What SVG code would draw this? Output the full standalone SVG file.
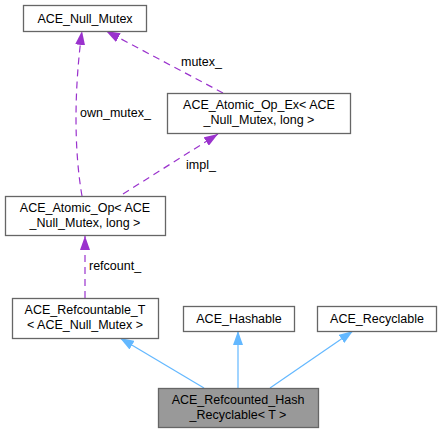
<svg xmlns="http://www.w3.org/2000/svg" width="442" height="433" viewBox="0 0 442 433">
<style>
  text { font-family: "Liberation Sans", Arial, sans-serif; font-size: 12.5px; fill: #000; }
  .c { text-anchor: middle; }
  .box { fill: #fff; stroke: #666; stroke-width: 1.3; }
  .main { fill: #999; stroke: #666; stroke-width: 1.3; }
  .coll { fill: none; stroke: #9a32cd; stroke-width: 1.2; stroke-dasharray: 7,5; }
  .inh { fill: none; stroke: #63b8ff; stroke-width: 1.2; }
</style>
<defs>
  <marker id="ap" markerUnits="userSpaceOnUse" viewBox="0 0 14 10" refX="14" refY="5" markerWidth="14" markerHeight="10" orient="auto">
    <path d="M0,0 L14,5 L0,10 z" fill="#9a32cd"/>
  </marker>
  <marker id="ab" markerUnits="userSpaceOnUse" viewBox="0 0 14 10" refX="14" refY="5" markerWidth="14" markerHeight="10" orient="auto">
    <path d="M0,0 L14,5 L0,10 z" fill="#63b8ff"/>
  </marker>
</defs>
<g id="connectors">
  <path class="coll" d="M82,196 C74,150 74,90 82,31" marker-end="url(#ap)"/>
  <text x="80" y="117">own_mutex_</text>
  <path class="coll" d="M223,93 L106,31" marker-end="url(#ap)"/>
  <text x="181" y="66">mutex_</text>
  <path class="coll" d="M123,194 L218,134" marker-end="url(#ap)"/>
  <text x="186" y="169">impl_</text>
  <path class="coll" d="M85,298 L85,236" marker-end="url(#ap)"/>
  <text x="89" y="270">refcount_</text>
  <path class="inh" d="M204,388 L120,338" marker-end="url(#ab)"/>
  <path class="inh" d="M238,388 L238,331" marker-end="url(#ab)"/>
  <path class="inh" d="M270,388 L353,331" marker-end="url(#ab)"/>
</g>
<g id="null_mutex">
  <rect class="box" x="23.5" y="5.5" width="123" height="26"/>
  <text class="c" x="85" y="22.5">ACE_Null_Mutex</text>
</g>
<g id="atomic_op_ex">
  <rect class="box" x="167.5" y="93.5" width="183" height="40"/>
  <text class="c" x="259" y="109">ACE_Atomic_Op_Ex&lt; ACE</text>
  <text class="c" x="259" y="124">_Null_Mutex, long &gt;</text>
</g>
<g id="atomic_op">
  <rect class="box" x="5.5" y="196.5" width="160" height="39"/>
  <text class="c" x="85" y="212">ACE_Atomic_Op&lt; ACE</text>
  <text class="c" x="85" y="227">_Null_Mutex, long &gt;</text>
</g>
<g id="refcountable_t">
  <rect class="box" x="12.5" y="298.5" width="146" height="40"/>
  <text class="c" x="85" y="314">ACE_Refcountable_T</text>
  <text class="c" x="85" y="329">&lt; ACE_Null_Mutex &gt;</text>
</g>
<g id="hashable">
  <rect class="box" x="183.5" y="306.5" width="111" height="25"/>
  <text class="c" x="239" y="323">ACE_Hashable</text>
</g>
<g id="recyclable">
  <rect class="box" x="317.5" y="306.5" width="119" height="25"/>
  <text class="c" x="377" y="323">ACE_Recyclable</text>
</g>
<g id="refcounted_hash_recyclable">
  <rect class="main" x="158.5" y="388.5" width="160" height="39"/>
  <text class="c" x="238" y="404">ACE_Refcounted_Hash</text>
  <text class="c" x="238" y="419">_Recyclable&lt; T &gt;</text>
</g>
</svg>
